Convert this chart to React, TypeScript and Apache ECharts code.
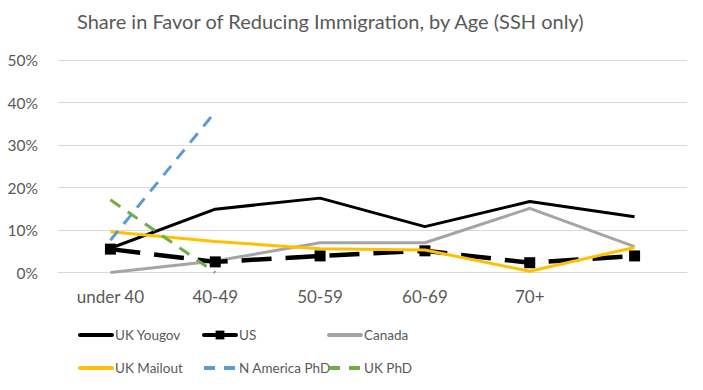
import React, { useEffect, useRef } from "react";
import * as echarts from "echarts";

const categories = ["under 40", "40-49", "50-59", "60-69", "70+", ""];
const ukYougov = [5.7, 14.9, 17.5, 10.8, 16.7, 13.1];
const us = [5.5, 2.5, 3.9, 5.1, 2.3, 3.9];
const canada = [0, 2.7, 7.0, 7.0, 15.1, 6.1];
const ukMailout = [9.6, 7.3, 5.6, 5.3, 0.3, 5.9];
const nAmericaPhd = [7.6, 37.8, null, null, null, null];
const ukPhd = [17.1, 0, null, null, null, null];
const yTicks = [0, 10, 20, 30, 40, 50];

const FONT = "Lato, 'Open Sans', sans-serif";
const TXT = "#595959";

export default function App() {
  const ref = useRef<HTMLDivElement>(null);
  useEffect(() => {
    if (!ref.current) return;
    const chart = echarts.init(ref.current, undefined, { renderer: "svg" });
    const mkLegend = (
      name: string,
      left: number,
      top: number,
      color: string,
      dash: any,
      showSymbol: boolean
    ) => ({
      data: [name],
      left,
      top,
      itemWidth: 32,
      itemHeight: 11,
      itemGap: 0,
      textStyle: { color: TXT, fontSize: 13.5, fontFamily: FONT, padding: [0, 0, 0, -2] },
      padding: 0,
      selectedMode: false,
      itemStyle: showSymbol ? { color, opacity: 1 } : { opacity: 0 },
      lineStyle: { color, width: 4, type: dash, cap: dash === "solid" ? "round" : "butt" },
    });
    chart.setOption({
      animation: false,
      backgroundColor: "#ffffff",
      title: {
        text: "Share in Favor of Reducing Immigration, by Age (SSH only)",
        left: 77,
        top: 11,
        padding: 0,
        textStyle: { color: TXT, fontSize: 20, fontWeight: "normal", fontFamily: FONT },
      },
      legend: [
        mkLegend("UK Yougov", 78, 328, "#000000", "solid", false),
        mkLegend("US", 202, 328, "#000000", "solid", true),
        mkLegend("Canada", 327, 328, "#A5A5A5", "solid", false),
        mkLegend("UK Mailout", 78, 361, "#FFC000", "solid", false),
        mkLegend("N America PhD", 202, 361, "#5B9BD5", [11, 9], false),
        mkLegend("UK PhD", 327, 361, "#70AD47", [11, 9], false),
      ],
      grid: { left: 58, right: 16, top: 60, bottom: 117.5, containLabel: false },
      xAxis: {
        type: "category",
        data: categories,
        boundaryGap: true,
        axisLine: { show: true, lineStyle: { color: "#D9D9D9", width: 1 } },
        axisTick: { show: false },
        axisLabel: { color: TXT, fontSize: 17, fontFamily: FONT, margin: 15 },
      },
      yAxis: {
        type: "value",
        min: 0,
        max: 50,
        interval: 10,
        axisLine: { show: false },
        axisTick: { show: false },
        splitLine: { lineStyle: { color: "#D9D9D9", width: 1 } },
        axisLabel: {
          color: TXT,
          fontSize: 15.5,
          fontFamily: FONT,
          margin: 20,
          formatter: (v: number) => (yTicks.includes(v) ? v + "%" : ""),
        },
      },
      series: [
        {
          name: "UK Yougov",
          type: "line",
          data: ukYougov,
          symbol: "none",
          itemStyle: { color: "#000000" },
          lineStyle: { color: "#000000", width: 3 },
          z: 3,
        },
        {
          name: "US",
          type: "line",
          data: us,
          symbol: "rect",
          symbolSize: 11,
          itemStyle: { color: "#000000" },
          lineStyle: { color: "#000000", width: 4.5, type: [30, 14] },
          z: 4,
        },
        {
          name: "Canada",
          type: "line",
          data: canada,
          symbol: "none",
          itemStyle: { color: "#A5A5A5" },
          lineStyle: { color: "#A5A5A5", width: 3 },
          z: 2,
        },
        {
          name: "UK Mailout",
          type: "line",
          data: ukMailout,
          symbol: "none",
          itemStyle: { color: "#FFC000" },
          lineStyle: { color: "#FFC000", width: 3 },
          z: 5,
        },
        {
          name: "N America PhD",
          type: "line",
          data: nAmericaPhd,
          symbol: "none",
          itemStyle: { color: "#5B9BD5" },
          lineStyle: { color: "#5B9BD5", width: 3, type: [12, 9] },
          z: 6,
        },
        {
          name: "UK PhD",
          type: "line",
          data: ukPhd,
          symbol: "none",
          itemStyle: { color: "#70AD47" },
          lineStyle: { color: "#70AD47", width: 3, type: [12, 9] },
          z: 6,
        },
      ],
    });
    return () => chart.dispose();
  }, []);
  return <div ref={ref} style={{ width: 703, height: 390, position: "absolute", left: 0, top: 0 }} />;
}
